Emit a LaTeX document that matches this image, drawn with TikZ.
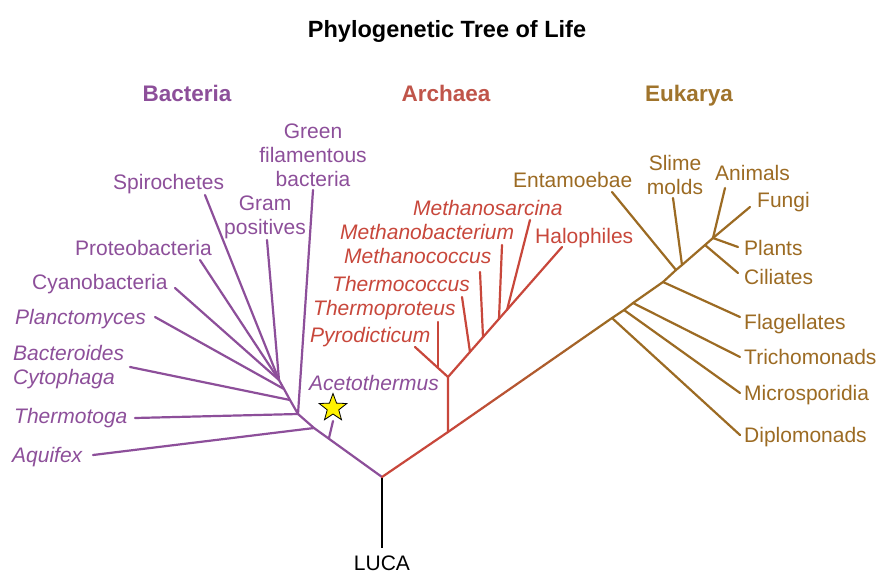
\documentclass[tikz,border=0pt]{standalone}
\usepackage{fontspec}
\setmainfont{Liberation Sans}
\usetikzlibrary{shapes.geometric,calc}
\definecolor{bac}{HTML}{8D4F9A}
\definecolor{arc}{HTML}{C8473B}
\definecolor{arch}{HTML}{C0554A}
\definecolor{euk}{HTML}{9C6B23}
\definecolor{eukh}{HTML}{A0742C}
\begin{document}
\begin{tikzpicture}[x=1pt,y=-1pt,
  lbl/.style={inner sep=0pt, font=\fontsize{21}{24}\selectfont},
  ital/.style={lbl, font=\fontsize{21}{24}\selectfont\itshape},
  hdr/.style={inner sep=0pt, font=\fontsize{22.5}{26}\selectfont\bfseries},
  bline/.style={draw=bac, line width=2.2pt, line cap=round, line join=round},
  aline/.style={draw=arc, line width=2.2pt, line cap=round, line join=round},
  eline/.style={draw=euk, line width=2.2pt, line cap=round, line join=round},
]
\useasboundingbox[fill=white] (0,0) rectangle (881,574);

% title and headers
\node[hdr, anchor=base, font=\fontsize{23.5}{26}\selectfont\bfseries] (title) at (447,37) {Phylogenetic Tree of Life};
\node[hdr, anchor=base, text=bac] (hbac) at (187,101) {Bacteria};
\node[hdr, anchor=base, text=arch] (harc) at (446,101) {Archaea};
\node[hdr, anchor=base, text=eukh] (heuk) at (689,101) {Eukarya};

% ---------- coordinates ----------
\coordinate (L) at (382,477);
\coordinate (Lb) at (382,548);
% bacteria
\coordinate (bA) at (314,428);
\coordinate (B0) at (298,414);
\coordinate (b1) at (290,400);
\coordinate (b2) at (284,389);
\coordinate (b3) at (279,380);
\coordinate (bS) at (329,438);
\coordinate (tS) at (333,421);
\coordinate (tAqu) at (93,455);
\coordinate (tThe) at (135,418);
\coordinate (tGre) at (313,190);
\coordinate (tBac) at (130,367);
\coordinate (tPla) at (155,317);
\coordinate (tCya) at (175,288);
\coordinate (tPro) at (200,260);
\coordinate (tSpi) at (205,195);
\coordinate (tGra) at (267,240);
% archaea
\coordinate (A0) at (448,432);
\coordinate (A1) at (448,377);
\coordinate (aP) at (438,368);
\coordinate (tPyr) at (415,347);
\coordinate (tTpr) at (438,322);
\coordinate (aTc) at (470,352);
\coordinate (tTc) at (462,297);
\coordinate (aMc) at (483,337);
\coordinate (tMc) at (480,272);
\coordinate (aMb) at (499,319);
\coordinate (tMb) at (502,245);
\coordinate (aMs) at (507,310);
\coordinate (tMs) at (530,220);
\coordinate (tHal) at (562,247);
% eukarya
\coordinate (e1) at (612,318);
\coordinate (e2) at (624,310);
\coordinate (e3) at (633,303);
\coordinate (e4) at (663,282);
\coordinate (e5) at (676,270);
\coordinate (e6) at (682,265);
\coordinate (e7) at (705,245);
\coordinate (e8) at (713,238);
\coordinate (tFun) at (750,207);
\coordinate (tDip) at (740,435);
\coordinate (tMic) at (740,393);
\coordinate (tTri) at (740,357);
\coordinate (tFla) at (740,317);
\coordinate (tEnt) at (612,192);
\coordinate (tSli) at (673,198);
\coordinate (tCil) at (738,273);
\coordinate (tPla2) at (738,247);
\coordinate (tAni) at (725,188);

% ---------- LUCA ----------
\draw[line width=2.2pt, black] (L) -- (Lb);
\node[lbl, anchor=base] (luca) at (382,570) {LUCA};

% ---------- bacteria ----------
\draw[bline] (L) -- (bA) -- (B0) -- (b1) -- (b2) -- (b3);
\draw[bline] (bS) -- (tS);
\draw[bline] (bA) -- (tAqu);
\draw[bline] (B0) -- (tThe);
\draw[bline] (B0) -- (tGre);
\draw[bline] (b1) -- (tBac);
\draw[bline] (b2) -- (tPla);
\draw[bline] (b3) -- (tCya);
\draw[bline] (b3) -- (tPro);
\draw[bline] (b3) -- (tSpi);
\draw[bline] (b3) -- (tGra);
\node[star, star points=5, star point ratio=2.4, fill=yellow, draw=black, line width=0.8pt, minimum size=29pt, inner sep=0pt] (star) at (333,408) {};

\node[lbl, anchor=base, align=center, text=bac] (lGre) at (313,186) {Green\\filamentous\\bacteria};
\node[lbl, anchor=base west, text=bac] (lSpi) at (113,189) {Spirochetes};
\node[lbl, anchor=base, align=center, text=bac] (lGra) at (265,234) {Gram\\positives};
\node[lbl, anchor=base west, text=bac] (lPro) at (75,255) {Proteobacteria};
\node[lbl, anchor=base west, text=bac] (lCya) at (32,289) {Cyanobacteria};
\node[ital, anchor=base west, text=bac] (lPla) at (15,324) {Planctomyces};
\node[ital, anchor=base west, align=left, text=bac] (lBac) at (13,384) {Bacteroides\\Cytophaga};
\node[ital, anchor=base west, text=bac] (lThe) at (14,423) {Thermotoga};
\node[ital, anchor=base west, text=bac] (lAqu) at (12,462) {Aquifex};
\node[ital, anchor=base west, text=bac] (lAce) at (309,390) {Acetothermus};

% ---------- archaea ----------
\draw[aline] (L) -- (A0);
\foreach \i in {0,...,23} {
  \pgfmathtruncatemacro\p{100-\i*100/23}
  \draw[line width=2.2pt, line cap=round, draw=arc!\p!euk] ($(A0)!{\i/24}!(e1)$) -- ($(A0)!{(\i+1)/24}!(e1)$);
}
\draw[aline] (A0) -- (A1) -- (tHal);
\draw[aline] (A1) -- (tPyr);
\draw[aline] (aP) -- (tTpr);
\draw[aline] (aTc) -- (tTc);
\draw[aline] (aMc) -- (tMc);
\draw[aline] (aMb) -- (tMb);
\draw[aline] (aMs) -- (tMs);

\node[ital, anchor=base west, text=arc] (lMs) at (413,215) {Methanosarcina};
\node[ital, anchor=base west, text=arc] (lMb) at (340,239) {Methanobacterium};
\node[lbl, anchor=base west, text=arc] (lHal) at (535,243) {Halophiles};
\node[ital, anchor=base west, text=arc] (lMc) at (344,263) {Methanococcus};
\node[ital, anchor=base west, text=arc] (lTc) at (332,291) {Thermococcus};
\node[ital, anchor=base west, text=arc] (lTpr) at (313,315) {Thermoproteus};
\node[ital, anchor=base west, text=arc] (lPyr) at (310,342) {Pyrodicticum};

% ---------- eukarya ----------
\draw[eline] (e1) -- (e2) -- (e3) -- (e4) -- (e5) -- (e6) -- (e7) -- (e8) -- (tFun);
\draw[eline] (e1) -- (tDip);
\draw[eline] (e2) -- (tMic);
\draw[eline] (e3) -- (tTri);
\draw[eline] (e4) -- (tFla);
\draw[eline] (e5) -- (tEnt);
\draw[eline] (e6) -- (tSli);
\draw[eline] (e7) -- (tCil);
\draw[eline] (e8) -- (tPla2);
\draw[eline] (e8) -- (tAni);

\node[lbl, anchor=base west, text=euk] (lEnt) at (513,187) {Entamoebae};
\node[lbl, anchor=base, align=center, text=euk] (lSli) at (675,194) {Slime\\molds};
\node[lbl, anchor=base west, text=euk] (lAni) at (715,180) {Animals};
\node[lbl, anchor=base west, text=euk] (lFun) at (757,207) {Fungi};
\node[lbl, anchor=base west, text=euk] (lPla2) at (744,255) {Plants};
\node[lbl, anchor=base west, text=euk] (lCil) at (744,284) {Ciliates};
\node[lbl, anchor=base west, text=euk] (lFla) at (744,329) {Flagellates};
\node[lbl, anchor=base west, text=euk] (lTri) at (744,364) {Trichomonads};
\node[lbl, anchor=base west, text=euk] (lMic) at (744,400) {Microsporidia};
\node[lbl, anchor=base west, text=euk] (lDip) at (744,442) {Diplomonads};
\end{tikzpicture}
\end{document}
